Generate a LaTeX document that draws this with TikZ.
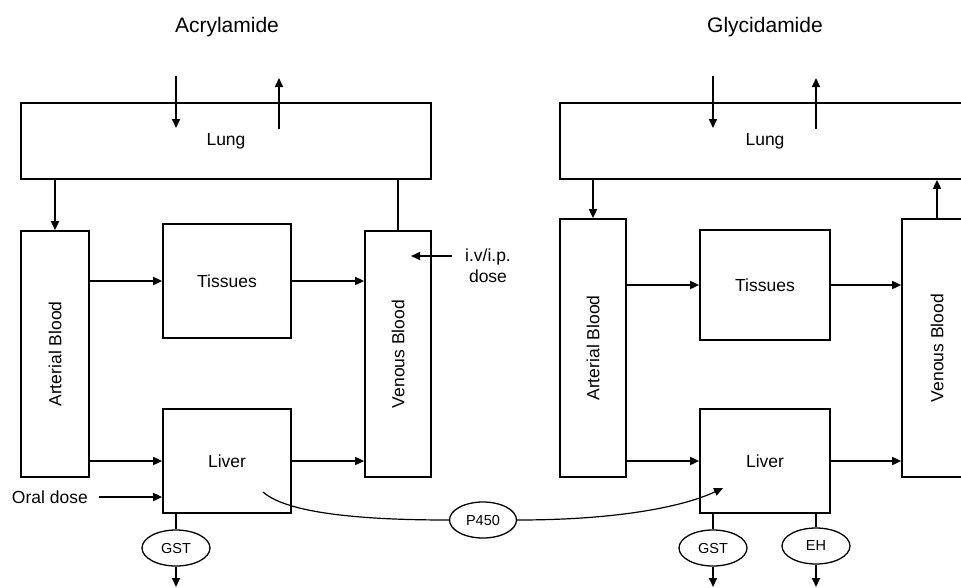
\documentclass[tikz,border=0pt]{standalone}
\usepackage{fontspec}
\setmainfont{Liberation Sans}
\usetikzlibrary{arrows.meta,shapes.geometric}
\begin{document}
\begin{tikzpicture}[x=1pt,y=-1pt,
  every node/.style={font=\fontsize{17.5}{21}\selectfont, inner sep=0pt},
  box/.style={draw, line width=1.7pt, rectangle},
  enz/.style={draw, line width=1.3pt, ellipse, minimum width=68pt, minimum height=36pt, font=\fontsize{14.5}{17}\selectfont},
  ttl/.style={font=\fontsize{21}{25}\selectfont},
  conn/.style={line width=1.7pt},
  arr/.style={line width=1.7pt, -{Triangle[length=9pt,width=8pt]}}
]
\useasboundingbox (0,0) rectangle (961,587);
\clip (0,0) rectangle (961,587);

% titles
\node[ttl] (tA) at (227,27) {Acrylamide};
\node[ttl] (tB) at (765,27) {Glycidamide};

% ---------- Acrylamide ----------
\node[box, minimum width=410pt, minimum height=76pt] (lungA) at (226,141) {Lung};
\node[box, minimum width=68pt, minimum height=246pt] (artA) at (55,354) {\rotatebox{90}{Arterial Blood}};
\node[box, minimum width=128pt, minimum height=114pt] (tisA) at (227,281) {Tissues};
\node[box, minimum width=66pt, minimum height=246pt] (venA) at (398,354) {\rotatebox{90}{Venous Blood}};
\node[box, minimum width=128pt, minimum height=104pt] (livA) at (227,461) {Liver};
\node[enz] (gstA) at (176,548) {GST};

\coordinate (inAs) at (176,76);  \coordinate (inAe) at (176,128);
\coordinate (exAs) at (279,129); \coordinate (exAe) at (279,78);
\draw[arr] (inAs) -- (inAe);
\draw[arr] (exAs) -- (exAe);
\draw[arr] (lungA.south -| artA.north) -- (artA.north);
\draw[conn] (venA.north) -- (venA.north |- lungA.south);
\draw[arr] (artA.east |- tisA.west) -- (tisA.west);
\draw[arr] (tisA.east) -- (tisA.east -| venA.west);
\draw[arr] (artA.east |- livA.west) -- (livA.west);
\draw[arr] (livA.east) -- (livA.east -| venA.west);

\node[anchor=east] (oral) at (88,497) {Oral dose};
\coordinate (oralS) at (99,497);
\draw[arr] (oralS) -- (oralS -| livA.west);

\node[align=center] (iv) at (488,266) {i.v/i.p.\\dose};
\coordinate (ivS) at (452,256); \coordinate (ivE) at (411,256);
\draw[arr] (ivS) -- (ivE);

\draw[conn] (livA.south -| gstA.north) -- (gstA.north);
\coordinate (gstAo) at (176,587);
\draw[arr] (gstA.south) -- (gstAo);

% P450 link
\node[enz, minimum width=67pt] (p450) at (483,520) {P450};
\coordinate (p450s) at (263,492);
\coordinate (p450e) at (723,488);
\draw[line width=1.2pt] (p450s) .. controls (290,516) and (380,520) .. (p450.west);
\draw[line width=1.2pt, -{Triangle[length=9pt,width=8pt]}] (p450.east) .. controls (620,520) and (685,506) .. (p450e);

% ---------- Glycidamide ----------
\node[box, minimum width=410pt, minimum height=76pt] (lungB) at (765,141) {Lung};
\node[box, minimum width=66pt, minimum height=258pt] (artB) at (593,348) {\rotatebox{90}{Arterial Blood}};
\node[box, minimum width=130pt, minimum height=110pt] (tisB) at (765,285) {Tissues};
\node[box, minimum width=70pt, minimum height=258pt] (venB) at (937,348) {\rotatebox{90}{Venous Blood}};
\node[box, minimum width=130pt, minimum height=104pt] (livB) at (765,461) {Liver};
\node[enz] (gstB) at (713,548) {GST};
\node[enz] (ehB) at (816,546) {EH};

\coordinate (inBs) at (713,76);  \coordinate (inBe) at (713,128);
\coordinate (exBs) at (816,129); \coordinate (exBe) at (816,78);
\draw[arr] (inBs) -- (inBe);
\draw[arr] (exBs) -- (exBe);
\draw[arr] (lungB.south -| artB.north) -- (artB.north);
\draw[arr] (venB.north) -- (venB.north |- lungB.south);
\draw[arr] (artB.east |- tisB.west) -- (tisB.west);
\draw[arr] (tisB.east) -- (tisB.east -| venB.west);
\draw[arr] (artB.east |- livB.west) -- (livB.west);
\draw[arr] (livB.east) -- (livB.east -| venB.west);

\draw[conn] (livB.south -| gstB.north) -- (gstB.north);
\draw[conn] (livB.south -| ehB.north) -- (ehB.north);
\coordinate (gstBo) at (713,587);
\coordinate (ehBo) at (816,587);
\draw[arr] (gstB.south) -- (gstBo);
\draw[arr] (ehB.south) -- (ehBo);
\end{tikzpicture}
\end{document}
